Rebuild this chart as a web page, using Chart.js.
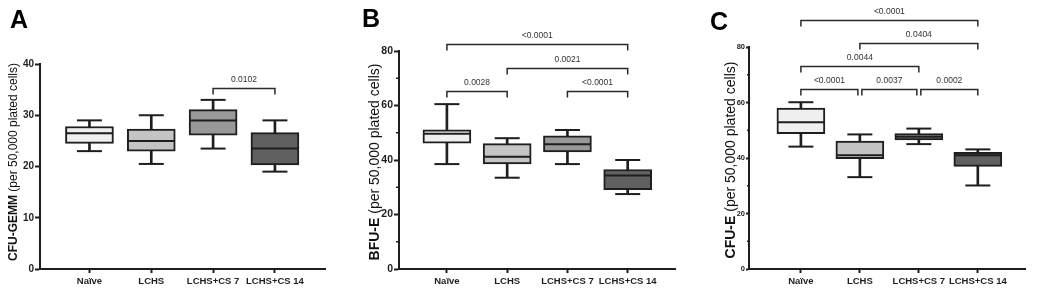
<!DOCTYPE html>
<html>
<head>
<meta charset="utf-8">
<script src="https://cdn.jsdelivr.net/npm/chart.js@4"></script>
<style>
  body { margin: 0; background: #fff; }
  .p { position: absolute; top: 0; width: 350px; height: 294px; }
</style>
</head>
<body>
<div class="p" style="left:0"><canvas id="cA" width="350" height="294"></canvas></div>
<div class="p" style="left:350px"><canvas id="cB" width="350" height="294"></canvas></div>
<div class="p" style="left:700px"><canvas id="cC" width="350" height="294"></canvas></div>
<script>
const groups = ["Naïve", "LCHS", "LCHS+CS 7", "LCHS+CS 14"];

// CFU-GEMM box stats
const gemmMin = [23.0, 20.5, 23.5, 19.0];
const gemmQ1  = [24.5, 23.0, 26.1, 20.3];
const gemmMed = [26.5, 25.0, 29.0, 23.5];
const gemmQ3  = [27.8, 27.3, 31.1, 26.6];
const gemmMax = [29.0, 30.0, 33.0, 29.0];
const gemmTicks = [0, 10, 20, 30, 40];
// [from, to, level, p-value]
const gemmBrackets = [[2, 3, 35.4, "0.0102"]];

// BFU-E box stats
const bfuMin = [38.5, 33.5, 38.5, 27.5];
const bfuQ1  = [46.2, 38.6, 43.0, 29.1];
const bfuMed = [49.6, 41.2, 45.8, 34.3];
const bfuQ3  = [51.1, 46.0, 48.9, 36.5];
const bfuMax = [60.5, 48.0, 51.0, 40.0];
const bfuTicks = [0, 20, 40, 60, 80];
const bfuBrackets = [
  [0, 3, 82.4, "<0.0001"],
  [1, 3, 73.9, "0.0021"],
  [0, 1, 65.4, "0.0028"],
  [2, 3, 65.4, "<0.0001"]
];

// CFU-E box stats
const cfuMin = [44.1, 33.1, 45.0, 30.1];
const cfuQ1  = [48.8, 39.8, 46.5, 37.0];
const cfuMed = [52.9, 41.0, 47.7, 41.0];
const cfuQ3  = [58.0, 46.1, 48.8, 42.0];
const cfuMax = [60.1, 48.5, 50.6, 43.1];
const cfuTicks = [0, 20, 40, 60, 80];
const cfuBrackets = [
  [0, 3, 89.6, "<0.0001"],
  [1, 3, 81.4, "0.0404"],
  [0, 2, 73.0, "0.0044"],
  [0, 1, 64.7, "<0.0001"],
  [1, 2, 64.7, "0.0037"],
  [2, 3, 64.7, "0.0002"]
];

const INK = "#1e1e1e";
const FONT = "'Liberation Sans', Arial, sans-serif";
const boxColors = ["#efefef", "#c4c4c4", "#999999", "#606060"];

Chart.defaults.font.family = FONT;
Chart.defaults.color = INK;

function decor(p) {
  return {
    id: "decor",
    afterDraw(chart) {
      const ctx = chart.ctx;
      const xs = chart.scales.x, ys = chart.scales.y;
      ctx.save();

      // panel letter
      ctx.fillStyle = "#000";
      ctx.font = "bold 25px " + FONT;
      ctx.textBaseline = "alphabetic";
      ctx.textAlign = "left";
      ctx.fillText(p.letter, p.letterX, p.letterY);

      // y-axis title, bold part + plain part
      ctx.save();
      ctx.translate(p.titleX, p.titleY);
      ctx.rotate(-Math.PI / 2);
      ctx.textBaseline = "middle";
      const bold = "bold " + p.titleSize + "px " + FONT;
      const norm = p.titleSize + "px " + FONT;
      ctx.font = bold;
      const w1 = ctx.measureText(p.titleBold).width;
      ctx.font = norm;
      const w2 = ctx.measureText(p.titleRest).width;
      let x0 = -(w1 + w2) / 2;
      ctx.fillStyle = "#111";
      ctx.font = bold;
      ctx.fillText(p.titleBold, x0, 0);
      ctx.font = norm;
      ctx.fillText(p.titleRest, x0 + w1, 0);
      ctx.restore();

      // minor ticks
      ctx.strokeStyle = INK;
      ctx.lineWidth = 1.5;
      (p.minor || []).forEach(v => {
        const y = ys.getPixelForValue(v);
        ctx.beginPath();
        ctx.moveTo(xs.left - p.minorLen, y);
        ctx.lineTo(xs.left, y);
        ctx.stroke();
      });

      // significance brackets
      ctx.strokeStyle = "#2a2a2a";
      ctx.lineWidth = 1.5;
      ctx.fillStyle = "#333";
      ctx.font = "8.5px " + FONT;
      ctx.textAlign = "center";
      ctx.textBaseline = "middle";
      p.brackets.forEach(b => {
        const [a, c, lvl, txt] = b;
        let x1 = xs.getPixelForValue(a), x2 = xs.getPixelForValue(c);
        if (p.brackets.some(o => o !== b && o[2] === lvl && o[1] === a)) x1 += 2;
        if (p.brackets.some(o => o !== b && o[2] === lvl && o[0] === c)) x2 -= 2;
        const y = Math.round(ys.getPixelForValue(lvl)) + 0.5;
        ctx.beginPath();
        ctx.moveTo(x1, y + 6);
        ctx.lineTo(x1, y);
        ctx.lineTo(x2, y);
        ctx.lineTo(x2, y + 6);
        ctx.stroke();
        ctx.fillText(txt, (x1 + x2) / 2, y - 8.5);
      });
      ctx.restore();
    }
  };
}

function panel(id, p) {
  const idx = groups.map((g, i) => i);
  new Chart(document.getElementById(id), {
    type: "bar",
    data: {
      datasets: [
        {
          type: "line", showLine: false,
          data: idx.map(i => ({ x: i, y: p.med[i] })),
          pointStyle: "line", pointRadius: 23, pointHoverRadius: 23,
          pointBorderWidth: 2, pointBorderColor: INK
        },
        {
          type: "line", showLine: false,
          data: idx.flatMap(i => [{ x: i, y: p.min[i] }, { x: i, y: p.max[i] }]),
          pointStyle: "line", pointRadius: 12.5, pointHoverRadius: 12.5,
          pointBorderWidth: 2, pointBorderColor: INK
        },
        {
          data: idx.map(i => ({ x: i, y: [p.q1[i], p.q3[i]] })),
          backgroundColor: boxColors, borderColor: INK, borderWidth: 2,
          borderSkipped: false, barThickness: 48, grouped: false
        },
        {
          data: idx.map(i => ({ x: i, y: [p.min[i], p.max[i]] })),
          backgroundColor: INK, borderWidth: 0, barThickness: 2, grouped: false
        }
      ]
    },
    options: {
      responsive: false,
      devicePixelRatio: 1,
      animation: false,
      events: [],
      layout: { padding: { top: p.top, right: 350 - p.right, bottom: 0, left: 0 } },
      plugins: { legend: { display: false }, tooltip: { enabled: false } },
      scales: {
        x: {
          type: "linear",
          min: p.xMin, max: p.xMax,
          offset: false,
          afterFit: s => { s.height = 24; },
          afterBuildTicks: s => { s.ticks = idx.map(i => ({ value: i })); },
          ticks: {
            autoSkip: false, maxRotation: 0, padding: 3,
            font: { size: 9.5, weight: "bold" }, color: INK,
            callback: v => groups[v]
          },
          grid: {
            offset: false, drawOnChartArea: false, drawTicks: true,
            tickLength: 4, tickColor: INK, tickWidth: 2
          },
          border: { color: INK, width: 2 }
        },
        y: {
          min: 0, max: p.yMax,
          afterFit: s => { s.width = p.left; },
          afterBuildTicks: s => { s.ticks = p.ticks.map(v => ({ value: v })); },
          ticks: {
            padding: 1, font: { size: p.tickSize, weight: "bold" }, color: INK
          },
          grid: {
            drawOnChartArea: false, drawTicks: true,
            tickLength: p.tickLen, tickColor: INK, tickWidth: 2
          },
          border: { color: INK, width: 2 }
        }
      }
    },
    plugins: [decor(p)]
  });
}

panel("cA", {
  min: gemmMin, q1: gemmQ1, med: gemmMed, q3: gemmQ3, max: gemmMax,
  ticks: gemmTicks, brackets: gemmBrackets, yMax: 40,
  left: 40, right: 328, top: 64, xMin: -0.8, xMax: 3.81,
  tickSize: 10, tickLen: 5,
  letter: "A", letterX: 10, letterY: 28,
  titleBold: "CFU-GEMM", titleRest: " (per 50,000 plated cells)",
  titleSize: 12, titleX: 14, titleY: 162
});

panel("cB", {
  min: bfuMin, q1: bfuQ1, med: bfuMed, q3: bfuQ3, max: bfuMax,
  ticks: bfuTicks, brackets: bfuBrackets, yMax: 80,
  left: 49, right: 333, top: 51, xMin: -0.795, xMax: 3.785,
  tickSize: 10.5, tickLen: 5, minor: [10, 30, 50, 70], minorLen: 3,
  letter: "B", letterX: 12, letterY: 27,
  titleBold: "BFU-E", titleRest: " (per 50,000 plated cells)",
  titleSize: 14, titleX: 25, titleY: 162
});

panel("cC", {
  min: cfuMin, q1: cfuQ1, med: cfuMed, q3: cfuQ3, max: cfuMax,
  ticks: cfuTicks, brackets: cfuBrackets, yMax: 80,
  left: 49, right: 343, top: 47, xMin: -0.88, xMax: 3.80,
  tickSize: 7.5, tickLen: 3, minor: [10, 30, 50, 70], minorLen: 2,
  letter: "C", letterX: 10, letterY: 30,
  titleBold: "CFU-E", titleRest: " (per 50,000 plated cells)",
  titleSize: 14, titleX: 31, titleY: 160
});
</script>
</body>
</html>
